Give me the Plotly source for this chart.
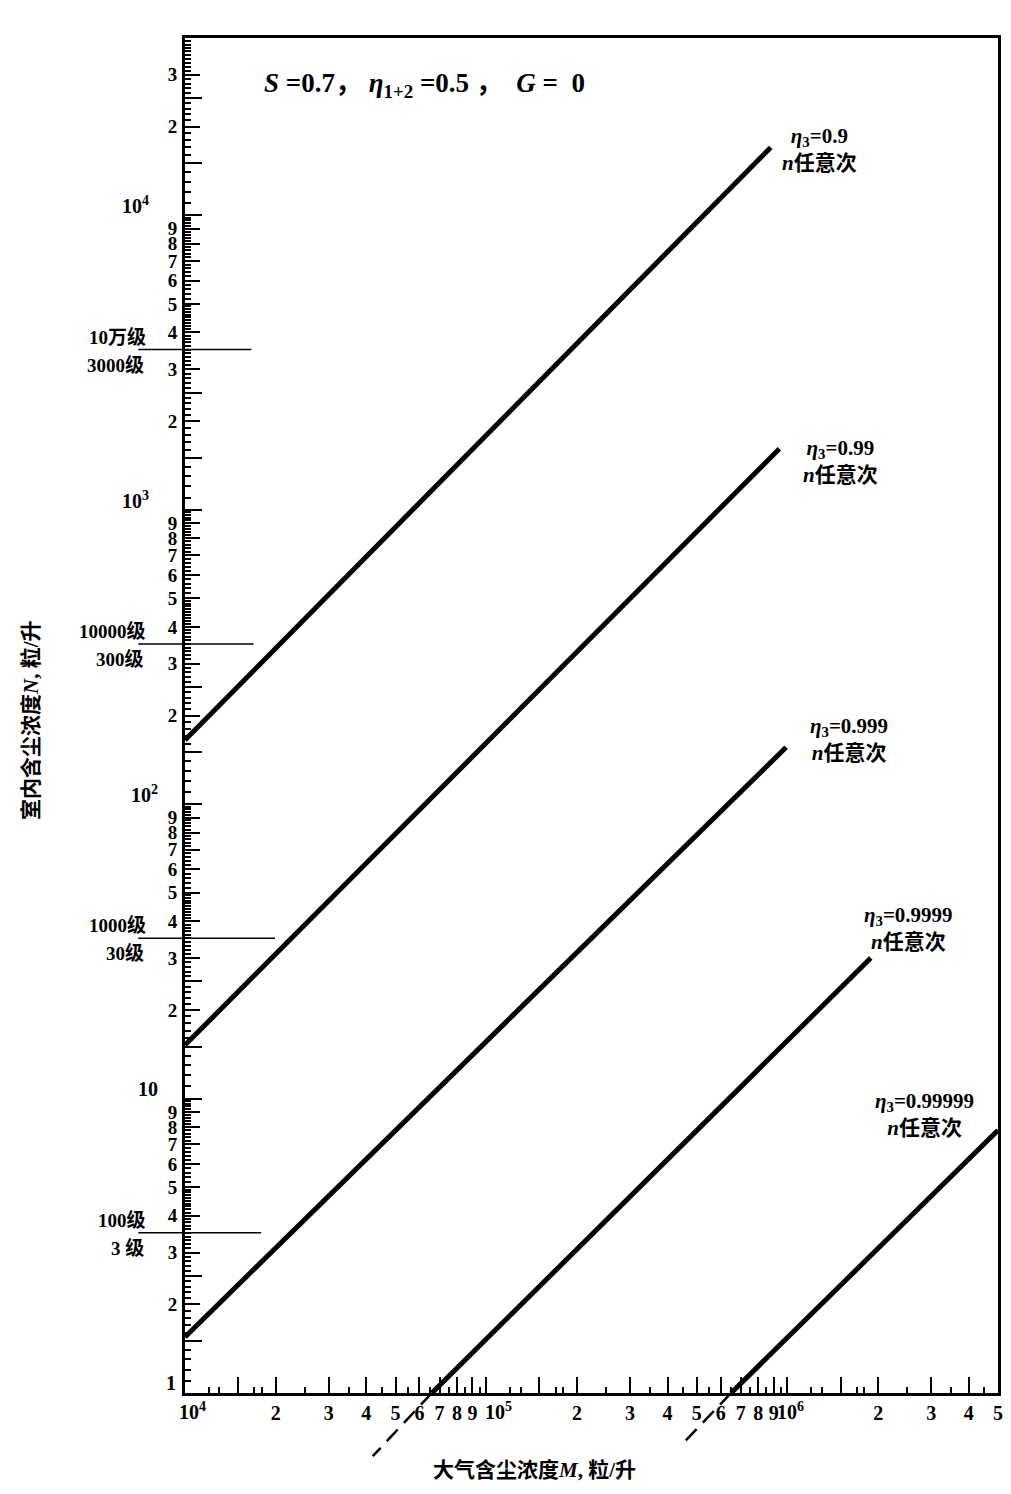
import math
import plotly.graph_objects as go

# ---------------- data ----------------
eta_labels = ["0.9", "0.99", "0.999", "0.9999", "0.99999"]
m_start = [1.0e4, 1.0e4, 1.0e4, 6.6e4, 6.5e5]      # atmospheric dust M at line start
n_start = [165.0, 15.2, 1.55, 1.0, 1.0]             # indoor dust N at line start
m_end = [8.8e5, 9.4e5, 9.9e5, 1.89e6, 5.0e6]
n_end = [1.7e4, 1.61e3, 156.0, 30.0, 7.8]

# dashed continuations below N = 1
dash_m_start = [6.6e4, 6.5e5]
dash_n_start = [1.0, 1.0]
dash_m_end = [4.2e4, 4.6e5]
dash_n_end = [0.61, 0.69]

# cleanliness class reference lines
class_n = [3.5e3, 3.5e2, 35.0, 3.5]
class_upper = ["10万级", "10000级", "1000级", "100级"]
class_lower = ["3000级", "300级", "30级", "3 级"]
class_m_end = [1.66e4, 1.69e4, 1.99e4, 1.79e4]

# axis ranges and tick labels
x_min, x_max = 1.0e4, 5.0e6
y_min, y_max = 1.0, 4.0e4
x_decades = [4, 5, 6]
y_decades = [0, 1, 2, 3, 4]
y_decade_text = ["1", "10", "10<sup>2</sup>", "10<sup>3</sup>", "10<sup>4</sup>"]
x_decade_text = ["10<sup>4</sup>", "10<sup>5</sup>", "10<sup>6</sup>"]
mantissas = [2, 3, 4, 5, 6, 7, 8, 9]

# ---------------- figure ----------------
W, H = 1011, 1494
ml, mr, mt, mb = 185, 8, 38, 30
plot_w = W - ml - mr
plot_h = H - mt - mb
axis_bottom_px = 1393
f = (H - mb - axis_bottom_px) / plot_h          # main y-domain start
decade_px = plot_h * (1 - f) / (math.log10(y_max) - math.log10(y_min))
y2_low = -(H - mb - axis_bottom_px) / decade_px


def px_x(p):
    return (p - ml) / plot_w


def px_y(p):
    return (H - mb - p) / plot_h


serif = "Liberation Serif, Noto Sans CJK SC"
cjk = "Liberation Serif, Noto Sans CJK SC"

fig = go.Figure()

for i in range(len(eta_labels)):
    fig.add_trace(go.Scatter(
        x=[m_start[i], m_end[i]], y=[n_start[i], n_end[i]],
        mode="lines", line=dict(color="black", width=5),
        showlegend=False, hoverinfo="skip"))

for i in range(len(dash_m_start)):
    fig.add_trace(go.Scatter(
        x=[dash_m_start[i], dash_m_end[i]], y=[dash_n_start[i], dash_n_end[i]],
        mode="lines", line=dict(color="black", width=2.5, dash="16px,9px"),
        xaxis="x", yaxis="y2", showlegend=False, hoverinfo="skip"))

# dummy (empty) trace to bind the overlay tick axes
fig.add_trace(go.Scatter(x=[], y=[], xaxis="x3", yaxis="y3",
                         showlegend=False, hoverinfo="skip"))

# ---------------- ticks ----------------
y_vals, y_text = [], []
for e in y_decades:
    for m in mantissas:
        v = m * 10 ** e
        if v > y_max or (e == 4 and m > 3):
            continue
        y_vals.append(v); y_text.append(str(m))
x_vals, x_text = [], []
for e in x_decades:
    for m in mantissas:
        v = m * 10 ** e
        if v > x_max * 1.0001:
            continue
        x_vals.append(v); x_text.append(str(m))

y_long = []
for e in y_decades:
    for m in [1, 1.5, 2.5]:
        v = m * 10 ** e
        if v < y_max:
            y_long.append(v)
x_long = []
for e in x_decades:
    for m in [1, 1.5]:
        v = m * 10 ** e
        if v < x_max:
            x_long.append(v)

y_minor = []
for e in y_decades:
    steps = [round(1 + 0.1 * k, 2) for k in range(1, 40)] + [round(5 + 0.2 * k, 2) for k in range(1, 25)]
    for m in steps:
        if abs(m - round(m)) < 1e-9 or m in (1.5, 2.5):
            continue
        v = m * 10 ** e
        if v < y_max:
            y_minor.append(v)
x_minor = []
for e in x_decades:
    for m in [1.2, 1.3, 1.7, 1.8, 2.5, 3.5, 4.5, 5.5, 6.5, 7.5, 8.5, 9.5]:
        v = m * 10 ** e
        if v < x_max:
            x_minor.append(v)

xtickfont = dict(family=serif, size=20, color="black", weight="bold")
ytickfont = dict(family=serif, size=19, color="black", weight="bold")

fig.update_layout(
    width=W, height=H,
    margin=dict(l=ml, r=mr, t=mt, b=mb),
    paper_bgcolor="white", plot_bgcolor="white",
    showlegend=False,
    xaxis=dict(
        type="log", range=[math.log10(x_min), math.log10(x_max)],
        anchor="y", showgrid=False, zeroline=False,
        showline=True, linewidth=3, linecolor="black", mirror=True,
        ticks="inside", ticklen=16, tickwidth=2, tickcolor="black",
        tickmode="array", tickvals=x_vals, ticktext=x_text, tickangle=0,
        tickfont=xtickfont, ticklabelstandoff=0,
        minor=dict(tickmode="array", tickvals=x_minor, ticks="inside",
                   ticklen=6, tickwidth=1.5, tickcolor="black", showgrid=False),
    ),
    yaxis=dict(
        type="log", range=[math.log10(y_min), math.log10(y_max)],
        domain=[f, 1], anchor="x", showgrid=False, zeroline=False,
        showline=True, linewidth=3, linecolor="black", mirror=True,
        ticks="inside", ticklen=15, tickwidth=2, tickcolor="black",
        tickmode="array", tickvals=y_vals, ticktext=y_text,
        tickfont=ytickfont, ticklabelstandoff=1,
        minor=dict(tickmode="array", tickvals=y_minor, ticks="inside",
                   ticklen=6, tickwidth=1.5, tickcolor="black", showgrid=False),
    ),
    yaxis2=dict(
        type="log", range=[y2_low, 0], domain=[0, f], anchor="x",
        visible=False, showgrid=False, zeroline=False,
    ),
    xaxis3=dict(
        type="log", range=[math.log10(x_min), math.log10(x_max)],
        overlaying="x", anchor="y3", side="bottom", showgrid=False, zeroline=False,
        showline=False, showticklabels=False,
        ticks="inside", ticklen=16, tickwidth=2, tickcolor="black",
        tickmode="array", tickvals=x_long,
    ),
    yaxis3=dict(
        type="log", range=[math.log10(y_min), math.log10(y_max)],
        overlaying="y", anchor="x3", side="left", showgrid=False, zeroline=False,
        showline=False, showticklabels=False,
        ticks="inside", ticklen=17, tickwidth=2, tickcolor="black",
        tickmode="array", tickvals=y_long,
    ),
)

# ---------------- decade tick labels (offset like the original) ----------------
y_dec_px_right = [178, 160, 160, 151, 151]
for i, e in enumerate(y_decades):
    fig.add_annotation(xref="paper", yref="y", x=px_x(y_dec_px_right[i]), y=e,
                       text="<b>%s</b>" % y_decade_text[i], showarrow=False,
                       xanchor="right", yanchor="middle", yshift=10,
                       font=dict(family=serif, size=20, color="black"))
x_dec_shift = [-8, -3, -12]
for i, e in enumerate(x_decades):
    fig.add_annotation(xref="x", yref="paper", x=e, y=px_y(1411),
                       text="<b>%s</b>" % x_decade_text[i], showarrow=False,
                       xanchor="left", yanchor="middle", xshift=x_dec_shift[i],
                       font=dict(family=serif, size=20, color="black"))

# ---------------- class reference lines & labels ----------------
for i in range(len(class_n)):
    fig.add_shape(type="line", xref="paper", yref="y",
                  x0=px_x(138), x1=0, y0=class_n[i], y1=class_n[i],
                  line=dict(color="black", width=1.5))
    fig.add_shape(type="line", xref="x", yref="y",
                  x0=x_min, x1=class_m_end[i], y0=class_n[i], y1=class_n[i],
                  line=dict(color="black", width=1.5))
    fig.add_annotation(xref="paper", yref="y", x=px_x(148), y=math.log10(class_n[i]),
                       text="<b>%s</b>" % class_upper[i], showarrow=False,
                       xanchor="right", yanchor="middle", yshift=13,
                       font=dict(family=cjk, size=19, color="black"))
    fig.add_annotation(xref="paper", yref="y", x=px_x(146), y=math.log10(class_n[i]),
                       text="<b>%s</b>" % class_lower[i], showarrow=False,
                       xanchor="right", yanchor="middle", yshift=-15,
                       font=dict(family=cjk, size=19, color="black"))

# ---------------- line labels ----------------
label_pos = [(1.28e6, 10 ** 4.224), (1.5e6, 10 ** 3.163), (1.6e6, 10 ** 2.221),
             (2.52e6, 10 ** 1.578), (2.86e6, 10 ** 0.946)]
for i, (lxv, lyv) in enumerate(label_pos):
    fig.add_annotation(
        xref="x", yref="y", x=math.log10(lxv), y=math.log10(lyv),
        text="<b><i>η</i><sub>3</sub>=%s</b><br><b><i>n</i>任意次</b>" % eta_labels[i],
        showarrow=False, xanchor="center", yanchor="middle", align="center",
        font=dict(family=cjk, size=21, color="black"))

# ---------------- parameter text ----------------
fig.add_annotation(
    xref="paper", yref="paper", x=px_x(262), y=px_y(85),
    text="<b><i>S</i> =0.7， <i>η</i><sub>1+2</sub> =0.5 ，  <i>G</i> =  0</b>",
    showarrow=False, xanchor="left", yanchor="middle",
    font=dict(family=serif, size=27, color="black"))

# ---------------- axis titles ----------------
fig.add_annotation(
    xref="paper", yref="paper", x=px_x(537), y=px_y(1470),
    text="<b>大气含尘浓度<i>M</i>, 粒/升</b>",
    showarrow=False, xanchor="center", yanchor="middle",
    font=dict(family=cjk, size=21, color="black"))
fig.add_annotation(
    xref="paper", yref="paper", x=px_x(30), y=px_y(720),
    text="<b>室内含尘浓度<i>N</i>, 粒/升</b>", textangle=-90,
    showarrow=False, xanchor="center", yanchor="middle",
    font=dict(family=cjk, size=21, color="black"))

fig.write_html("out.html")
